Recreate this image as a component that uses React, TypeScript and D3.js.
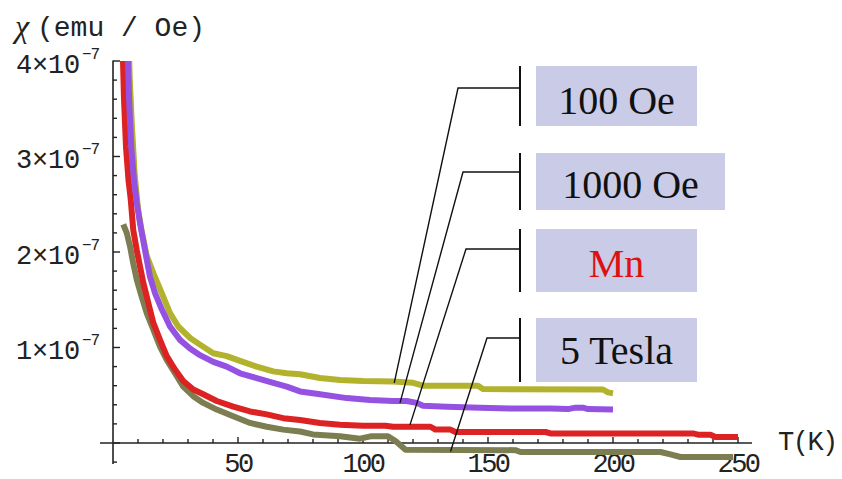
import React from 'react';
import * as d3 from 'd3';

// chi in units of 1e-7 emu/Oe, T in K
const series100Oe: [number, number][] = [
  [6.2, 4.3], [6.7, 3.8], [7.6, 3.3], [8.7, 2.8], [10, 2.45], [11.6, 2.2], [13.5, 1.96],
  [16.1, 1.78], [19.5, 1.57], [22.8, 1.36], [26.1, 1.22], [30.8, 1.1], [34.8, 1.03],
  [40.1, 0.94], [45.5, 0.91], [50.8, 0.86], [57.5, 0.8], [64.1, 0.75], [69.5, 0.73],
  [74.8, 0.72], [82.8, 0.68], [90.8, 0.66], [100, 0.65], [112, 0.645], [120, 0.63],
  [124, 0.6], [146, 0.6], [148, 0.565], [196, 0.56], [198, 0.53], [200, 0.52],
];

const series1000Oe: [number, number][] = [
  [5.8, 4.3], [6, 4.0], [6.5, 3.55], [7.3, 3.1], [8.4, 2.75], [9.5, 2.52], [10.8, 2.3],
  [12.1, 2.12], [13.5, 1.92], [14.8, 1.74], [16.8, 1.57], [19.5, 1.4], [22.8, 1.22],
  [26.8, 1.08], [30.8, 0.99], [34.8, 0.92], [40.1, 0.85], [45.5, 0.8], [50.8, 0.73],
  [57.5, 0.68], [64.1, 0.63], [69.5, 0.59], [74.8, 0.54], [82.8, 0.51], [93.5, 0.47],
  [102.8, 0.45], [112, 0.44], [117.5, 0.44], [121.5, 0.42], [124, 0.39], [133.5, 0.38],
  [146.8, 0.37], [160, 0.36], [175, 0.36], [182, 0.355], [185, 0.37], [188, 0.37],
  [190, 0.355], [200, 0.35],
];

const seriesMn: [number, number][] = [
  [3.8, 4.3], [4, 4.0], [4.4, 3.6], [5.2, 3.1], [6.2, 2.75], [7.1, 2.55], [8.1, 2.23],
  [9.5, 2.02], [10.8, 1.85], [12.1, 1.68], [14.1, 1.47], [16.1, 1.26], [18.8, 1.08],
  [21.5, 0.91], [24.8, 0.77], [28.1, 0.65], [32.1, 0.56], [36.1, 0.51], [41.5, 0.44],
  [48.1, 0.38], [54.8, 0.33], [61.5, 0.3], [68.1, 0.26], [74.8, 0.24], [82.8, 0.21],
  [90.8, 0.19], [100, 0.18], [109, 0.18], [112, 0.17], [127, 0.17], [129, 0.14],
  [135, 0.14], [137, 0.115], [173, 0.115], [175, 0.1], [232, 0.1], [234, 0.087],
  [239, 0.087], [241, 0.063], [250, 0.063],
];

const series5Tesla: [number, number][] = [
  [4.1, 2.29], [5.5, 2.2], [6.8, 2.06], [8.1, 1.88], [9.5, 1.71], [11.5, 1.53],
  [13.5, 1.36], [16.1, 1.19], [18.8, 1.01], [21.5, 0.87], [24.8, 0.73], [28.1, 0.59],
  [32.1, 0.49], [36.1, 0.42], [41.5, 0.35], [48.1, 0.28], [54.8, 0.21], [61.5, 0.17],
  [68.1, 0.14], [74.8, 0.12], [80, 0.09], [90.8, 0.07], [98.8, 0.045], [103, 0.07],
  [110, 0.07], [113, 0.02], [117, -0.07], [161, -0.075], [163, -0.094], [219, -0.094],
  [223, -0.12], [227, -0.147], [248, -0.147],
];

const xTicks = d3.range(10, 251, 10);
const xTickLabels = [50, 100, 150, 200, 250];
const yTicks = d3.range(-2, 41, 2).map((v) => v / 10);
const yTickLabels = [1, 2, 3, 4];

const legendLabels = ['100 Oe', '1000 Oe', 'Mn', '5 Tesla'];
// point on each curve the label line points to (T, chi)
const legendAnchors: [number, number][] = [[112.5, 0.63], [114.8, 0.42], [118.8, 0.19], [135, -0.09]];

const curves = [
  { data: series100Oe, color: '#b2b22c' },
  { data: series5Tesla, color: '#7d7d52' },
  { data: seriesMn, color: '#dc2222' },
  { data: series1000Oe, color: '#9552e2' },
];

// legend layout (pixels)
const legendBoxes = [
  { x0: 536, x1: 697, y0: 66, y1: 126, base: 114, elbow: [458, 88], textColor: '#111' },
  { x0: 536, x1: 725, y0: 153, y1: 210, base: 198, elbow: [463, 172], textColor: '#111' },
  { x0: 536, x1: 697, y0: 229, y1: 292, base: 277, elbow: [466, 249], textColor: '#dd1111' },
  { x0: 536, x1: 697, y0: 318, y1: 382, base: 364, elbow: [487, 338], textColor: '#111' },
];

const W = 842;
const H = 479;
const barX = 520;

const mono = '"Liberation Mono", "DejaVu Sans Mono", monospace';
const serif = '"Liberation Serif", "DejaVu Serif", serif';

const App = () => {
  const x = d3.scaleLinear().domain([0, 250]).range([113, 738]);
  const y = d3.scaleLinear().domain([-0.22, 4]).range([464, 61]);

  const line = d3.line<[number, number]>()
    .x((d) => x(d[0]))
    .y((d) => y(d[1]));

  const axisColor = '#222';

  return (
    <svg
      width={W}
      height={H}
      style={{ position: 'absolute', top: 0, left: 0, display: 'block', background: '#fff' }}
    >
      <defs>
        <clipPath id="plot">
          <rect x={x(0)} y={y(4)} width={x(262) - x(0)} height={y(-0.22) - y(4) + 6} />
        </clipPath>
      </defs>

      {/* axes */}
      <line x1={x(-5.2)} x2={x(255.6)} y1={y(0)} y2={y(0)} stroke={axisColor} strokeWidth={1.6} />
      <line x1={x(0)} x2={x(0)} y1={y(4.005)} y2={y(-0.22)} stroke={axisColor} strokeWidth={1.6} />

      {xTicks.map((t) => (
        <line key={'xt' + t} x1={x(t)} x2={x(t)} y1={y(0)} y2={y(0) - (t % 50 === 0 ? 6 : 4)}
          stroke={axisColor} strokeWidth={1.4} />
      ))}
      {yTicks.map((v) => (
        <line key={'yt' + v} x1={x(0)} x2={x(0) + (Math.abs(v % 1) < 1e-9 ? 7 : 4)} y1={y(v)} y2={y(v)}
          stroke={axisColor} strokeWidth={1.4} />
      ))}

      {xTickLabels.map((t) => (
        <text key={'xl' + t} x={x(t)} y={472} textAnchor="middle" fontFamily={mono}
          fontSize={27} letterSpacing={-2.5} fill="#222">{t}</text>
      ))}
      {yTickLabels.map((v) => (
        <g key={'yl' + v}>
          <text x={80} y={y(v) + 12} textAnchor="end" fontFamily={mono} fontSize={27}
            letterSpacing={-0.2} fill="#222">{v}×10</text>
          <text x={82} y={y(v) - 2} fontFamily={mono} fontSize={16} letterSpacing={-1}
            fill="#222">−7</text>
        </g>
      ))}

      <text x={778} y={450} fontFamily={mono} fontSize={27} letterSpacing={-1.5} fill="#222">T(K)</text>
      <text x={15} y={37} fontFamily={serif} fontStyle="italic" fontSize={32} fill="#222">χ</text>
      <text x={37} y={36} fontFamily={mono} fontSize={28} fill="#222">(emu / Oe)</text>

      {/* curves */}
      <g clipPath="url(#plot)">
        {curves.map((c, i) => (
          <path key={'c' + i} d={line(c.data) || ''} fill="none" stroke={c.color}
            strokeWidth={6} strokeLinejoin="round" strokeLinecap="butt" />
        ))}
      </g>

      {/* legend */}
      {legendLabels.map((label, i) => {
        const b = legendBoxes[i];
        const a = legendAnchors[i];
        return (
          <g key={'lg' + i}>
            <polyline
              points={`${x(a[0])},${y(a[1])} ${b.elbow[0]},${b.elbow[1]} ${barX},${b.elbow[1]}`}
              fill="none" stroke="#111" strokeWidth={1.4} />
            <line x1={barX} x2={barX} y1={b.y0} y2={b.y1} stroke="#111" strokeWidth={2} />
            <rect x={b.x0} y={b.y0} width={b.x1 - b.x0} height={b.y1 - b.y0} fill="#cacbe6" />
            <text x={(b.x0 + b.x1) / 2} y={b.base} textAnchor="middle" fontFamily={serif}
              fontSize={40} fill={b.textColor}>{label}</text>
          </g>
        );
      })}
    </svg>
  );
};

export default App;
